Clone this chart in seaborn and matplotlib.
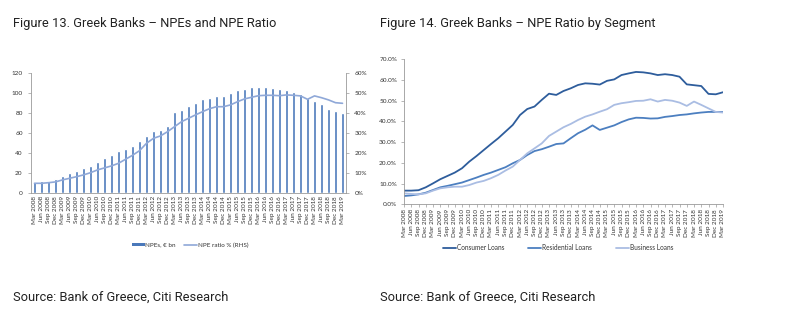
import matplotlib
matplotlib.use("Agg")
import matplotlib.pyplot as plt
import matplotlib.ticker as mticker
from matplotlib.lines import Line2D
from matplotlib.patches import Patch
import seaborn as sns
import pandas as pd

sns.set_theme(style="white")
plt.rcParams['font.family'] = ['Lato', 'DejaVu Sans']

quarters = [f"{m} {y}" for y in range(2008, 2020) for m in ["Mar", "Jun", "Sep", "Dec"]][:45]

npes_bn = [11.0, 12.0, 12.7, 14.3, 17.0, 20.3, 22.3, 25.3, 27.3, 31.3,
           35.0, 38.0, 42.0, 44.0, 47.7, 52.0, 57.7, 62.7, 63.0, 67.7,
           81.7, 83.3, 87.3, 90.7, 94.0, 95.7, 97.3, 97.3, 100.0, 103.3,
           104.7, 106.0, 106.7, 106.7, 105.7, 104.7, 103.3, 101.7, 99.0, 95.0,
           92.0, 89.0, 84.7, 82.3, 80.0]
npe_ratio = [5.0, 5.0, 5.3, 5.7, 6.7, 7.5, 8.3, 9.2, 10.3, 11.7,
             12.7, 13.7, 15.0, 17.0, 19.0, 21.3, 25.0, 27.5, 28.7, 30.8,
             33.3, 35.8, 37.5, 39.2, 40.8, 42.3, 43.3, 43.3, 44.2, 45.8,
             47.2, 48.0, 48.8, 49.0, 49.0, 48.8, 49.2, 49.0, 48.7, 47.0,
             48.7, 47.8, 46.7, 45.3, 45.0]

consumer = [6.6, 6.6, 6.8, 8.2, 10.1, 12.1, 13.7, 15.3, 17.4, 20.6,
            23.3, 26.2, 29.1, 31.9, 35.1, 38.3, 43.1, 46.0, 47.2, 50.4,
            53.4, 52.8, 54.7, 56.0, 57.6, 58.4, 58.2, 57.8, 59.6, 60.3,
            62.4, 63.2, 63.9, 63.7, 63.2, 62.4, 62.8, 62.4, 61.6, 57.9,
            57.5, 57.1, 53.3, 53.1, 54.1]
residential = [4.0, 4.3, 4.8, 5.6, 6.9, 8.2, 8.9, 9.7, 10.5, 11.7,
               12.9, 14.2, 15.3, 16.6, 17.9, 19.8, 21.4, 23.8, 25.7, 26.6,
               27.8, 29.1, 29.4, 31.9, 34.3, 36.0, 38.1, 35.9, 37.0, 38.1,
               39.7, 41.0, 41.8, 41.7, 41.4, 41.5, 42.2, 42.6, 43.1, 43.4,
               43.9, 44.3, 44.6, 44.6, 44.6]
business = [5.3, 5.0, 4.8, 5.3, 6.6, 7.7, 8.2, 8.5, 8.5, 9.3,
            10.5, 11.3, 12.6, 14.2, 16.3, 18.2, 21.4, 24.6, 27.0, 29.4,
            33.0, 35.1, 37.2, 38.8, 40.7, 42.3, 43.4, 44.7, 45.9, 48.0,
            48.8, 49.3, 49.9, 50.0, 50.7, 49.6, 50.4, 50.0, 49.1, 47.5,
            49.6, 48.0, 46.3, 44.6, 44.3]

W, H = 785, 322
fig = plt.figure(figsize=(W / 100, H / 100), dpi=100)
fig.patch.set_facecolor("white")

def ax_rect(x0, y0, x1, y1):
    return [x0 / W, 1 - y1 / H, (x1 - x0) / W, (y1 - y0) / H]

title_kw = dict(family=['Roboto', 'DejaVu Sans'], fontsize=9.3, color="#222222")
fig.text(13 / W, 1 - 23 / H, "Figure 13. Greek Banks \u2013 NPEs and NPE Ratio", va="center", ha="left", **title_kw)
fig.text(380 / W, 1 - 23 / H, "Figure 14. Greek Banks \u2013 NPE Ratio by Segment", va="center", ha="left", **title_kw)
fig.text(13 / W, 1 - 297 / H, "Source: Bank of Greece, Citi Research", va="center", ha="left", **title_kw)
fig.text(380 / W, 1 - 297 / H, "Source: Bank of Greece, Citi Research", va="center", ha="left", **title_kw)

tick_fs = 4.6
spine_c = "#9a9a9a"
bar_c = "#4a78ba"
ratio_c = "#8fa8d8"

# ---- Left chart
df1 = pd.DataFrame({"q": quarters, "idx": range(len(quarters)), "npe": npes_bn, "ratio": npe_ratio})
ax1 = fig.add_axes(ax_rect(31, 73.3, 346, 193.3))
sns.barplot(data=df1, x="q", y="npe", color=bar_c, width=0.55, saturation=1, ax=ax1, order=quarters)
ax1.set_xlim(-0.5, len(quarters) - 0.5)
ax1.set_ylim(0, 120)
ax1.set_yticks(range(0, 121, 20))
ax1.set_xlabel("")
ax1.set_ylabel("")
ax2 = ax1.twinx()
sns.lineplot(data=df1, x="idx", y="ratio", color=ratio_c, linewidth=1.2, ax=ax2)
ax2.set_ylim(0, 60)
ax2.set_yticks(range(0, 61, 10))
ax2.yaxis.set_major_formatter(mticker.FuncFormatter(lambda v, p: f"{v:.0f}%"))
ax2.set_ylabel("")
ax2.set_xlim(-0.5, len(quarters) - 0.5)
ax1.set_xticks(range(len(quarters)))
ax1.set_xticklabels(quarters, rotation=90, fontsize=tick_fs, color="#333333")
for a in (ax1, ax2):
    a.spines["top"].set_visible(False)
    a.tick_params(axis="y", labelsize=tick_fs, labelcolor="#333333", length=2, width=0.5, color=spine_c, direction="out", pad=4)
    a.tick_params(axis="x", length=0, pad=2)
ax1.tick_params(axis="y", left=True)
ax2.tick_params(axis="y", right=True)
ax1.spines["left"].set_color(spine_c)
ax1.spines["left"].set_linewidth(0.6)
ax1.spines["right"].set_visible(False)
ax2.spines["left"].set_visible(False)
ax2.spines["bottom"].set_visible(False)
ax2.spines["right"].set_color(spine_c)
ax2.spines["right"].set_linewidth(0.6)
ax1.spines["bottom"].set_color(spine_c)
ax1.spines["bottom"].set_linewidth(0.6)

h1 = [Patch(facecolor=bar_c, edgecolor="none"), Line2D([], [], color=ratio_c, lw=1.2)]
fig.legend(h1, ["NPEs, \u20ac bn", "NPE ratio % (RHS)"], loc="center", bbox_to_anchor=(190 / W, 1 - 245 / H),
           ncol=2, frameon=False, fontsize=4.5, handlelength=2.0, handleheight=0.6, columnspacing=1.3,
           handletextpad=0.15, labelcolor="#333333")

# ---- Right chart
df2 = pd.DataFrame({"idx": list(range(len(quarters))) * 3,
                    "val": consumer + residential + business,
                    "seg": ["Consumer Loans"] * 45 + ["Residential Loans"] * 45 + ["Business Loans"] * 45})
pal = {"Consumer Loans": "#2e5d9c", "Residential Loans": "#4c7fc0", "Business Loans": "#aabde3"}
ax3 = fig.add_axes(ax_rect(404, 59.3, 723, 204.3))
sns.lineplot(data=df2, x="idx", y="val", hue="seg", palette=pal, linewidth=1.3, ax=ax3, legend=False)
ax3.set_xlim(0, len(quarters) - 1)
ax3.set_ylim(0, 70)
ax3.set_yticks(range(0, 71, 10))
ax3.yaxis.set_major_formatter(mticker.FuncFormatter(lambda v, p: f"{v:.1f}%"))
ax3.set_xticks(range(len(quarters)))
ax3.set_xticklabels(quarters, rotation=90, fontsize=tick_fs, color="#333333")
ax3.set_xlabel("")
ax3.set_ylabel("")
ax3.tick_params(axis="y", labelsize=tick_fs, labelcolor="#333333", length=2, width=0.5, color=spine_c, left=True, pad=3)
ax3.tick_params(axis="x", length=2, width=0.5, color=spine_c, bottom=True, pad=1.5)
for s in ("top", "right"):
    ax3.spines[s].set_visible(False)
for s in ("left", "bottom"):
    ax3.spines[s].set_color(spine_c)
    ax3.spines[s].set_linewidth(0.6)

h3 = [Line2D([], [], color=pal[k], lw=1.3) for k in pal]
fig.legend(h3, list(pal.keys()), loc="center", bbox_to_anchor=(558 / W, 1 - 248 / H),
           ncol=3, frameon=False, fontsize=4.7, handlelength=2.0, columnspacing=3.6,
           handletextpad=0.2, labelcolor="#333333")

fig.savefig("out.png", dpi=100, facecolor="white")
